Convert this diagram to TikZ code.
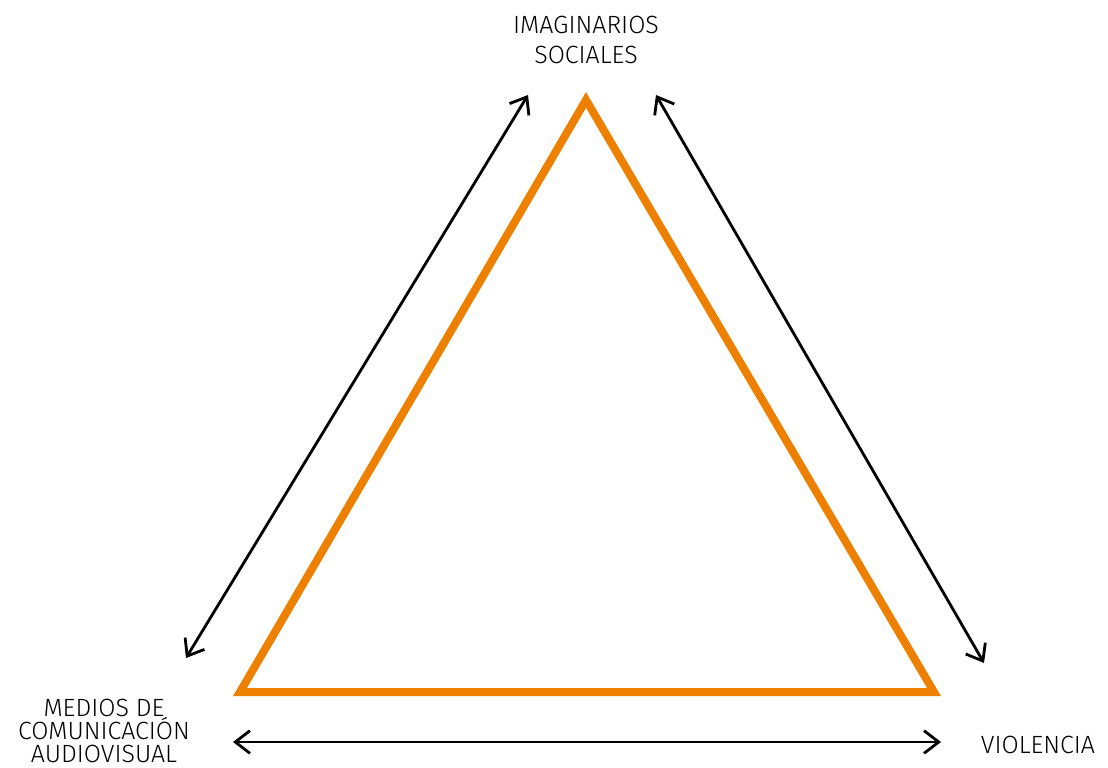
\documentclass[tikz,border=0pt]{standalone}
\usepackage{fontspec}
\setmainfont{Fira Sans Light}
\usetikzlibrary{arrows.meta, positioning, calc}
\definecolor{triorange}{RGB}{238,128,0}

\tikzset{
    label/.style={font=\fontsize{18.7}{23}\selectfont, align=center, inner sep=0pt},
    link/.style={line width=2.1pt, {Straight Barb[length=11pt,width=17pt]}-{Straight Barb[length=11pt,width=17pt]}}
}

\begin{document}
\begin{tikzpicture}[x=0.75pt, y=-0.75pt]
        \useasboundingbox (0,0) rectangle (1108,768);

        % Triangle corners
        \coordinate (top) at (586, 100);
        \coordinate (left) at (240, 692);
        \coordinate (right) at (934, 692);
        \draw[triorange, line width=6pt, line join=miter] (top) -- (left) -- (right) -- cycle;

        % Labels
        \node[label] (imag) at (586, 40) {IMAGINARIOS\\SOCIALES};
        \node[label, font=\fontsize{18.7}{17}\selectfont] (medios) at (104, 731) {MEDIOS DE\\COMUNICACIÓN\\AUDIOVISUAL};
        \node[label] (viol) at (1038, 745) {VIOLENCIA};

        % Two-way arrows
        \coordinate (l1) at (186, 658);
        \coordinate (l2) at (528, 95);
        \coordinate (r1) at (656, 95);
        \coordinate (r2) at (984, 663);
        \coordinate (b1) at (233, 742);
        \coordinate (b2) at (941, 742);
        \draw[link] (l1) -- (l2);
        \draw[link] (r1) -- (r2);
        \draw[link] (b1) -- (b2);
    \end{tikzpicture}
\end{document}
